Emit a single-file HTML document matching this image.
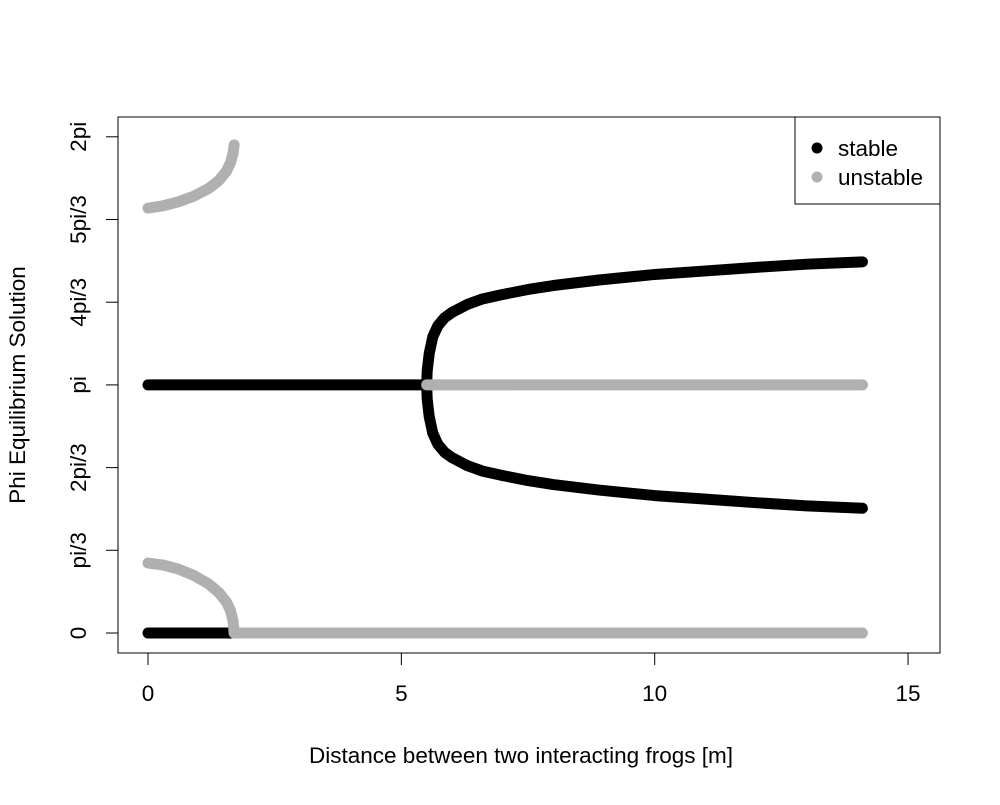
<!DOCTYPE html>
<html><head><meta charset="utf-8"><style>
body{margin:0;background:#fff;font-family:"Liberation Sans",sans-serif}
</style></head><body>
<svg id="chart" width="1000" height="800" font-family="Liberation Sans, sans-serif">
<rect x="0" y="0" width="1000" height="800" fill="#fff"/>
<g id="marks"></g>
<rect x="118" y="117" width="822" height="536" fill="none" stroke="#000" stroke-width="1"/>
<g id="axes"></g>
<text x="521" y="763" font-size="22.5" text-anchor="middle">Distance between two interacting frogs [m]</text>
<text transform="translate(25,385) rotate(-90)" font-size="22.5" text-anchor="middle">Phi Equilibrium Solution</text>
<g>
<rect x="795" y="117" width="145" height="87" fill="#fff" stroke="#000"/>
<circle cx="817" cy="148" r="5.5" fill="#000"/>
<text x="838" y="156" font-size="22.5">stable</text>
<circle cx="817" cy="177" r="5.5" fill="#b0b0b0"/>
<text x="838" y="185" font-size="22.5">unstable</text>
</g>
</svg>
<script>
const xTicks=[0,5,10,15];
const yTickVals=[0,1,2,3,4,5,6];
const yTickLabels=["0","pi/3","2pi/3","pi","4pi/3","5pi/3","2pi"];
// stable series
const stableZeroD=[0,1.7];
const stableZeroPhi=[0,0];
const stablePiD=[0,5.5];
const stablePiPhi=[3.1416,3.1416];
const branchD=[5.5,5.51,5.55,5.62,5.72,5.85,6.0,6.3,6.6,6.95,7.5,8,8.9,10,10.9,12,13,14.1];
const branchUpper=[3.1416,3.32,3.54,3.75,3.89,3.99,4.06,4.16,4.23,4.28,4.35,4.40,4.47,4.54,4.58,4.63,4.67,4.70];
const branchLower=[3.1416,2.96,2.74,2.53,2.39,2.29,2.22,2.12,2.05,2.00,1.93,1.88,1.81,1.74,1.70,1.65,1.61,1.58];
// unstable series
const unstLowD=[0,0.3,0.6,0.9,1.2,1.4,1.55,1.63,1.68,1.7];
const unstLowPhi=[0.886,0.86,0.81,0.73,0.62,0.51,0.39,0.28,0.15,0];
const unstUpD=[0,0.3,0.6,0.9,1.2,1.4,1.55,1.63,1.68,1.7];
const unstUpPhi=[5.38,5.41,5.46,5.53,5.63,5.73,5.85,5.96,6.08,6.18];
const unstZeroD=[1.7,14.1];
const unstZeroPhi=[0,0];
const unstPiD=[5.5,14.1];
const unstPiPhi=[3.1416,3.1416];

const NS="http://www.w3.org/2000/svg";
const sx=d=>148+d*50.67;
const sy=p=>633-p/(Math.PI/3)*82.7;
const marks=document.getElementById('marks'),axes=document.getElementById('axes');
function line(ds,ps,color,name){
  const pl=document.createElementNS(NS,'polyline');
  pl.setAttribute('points',ds.map((d,i)=>sx(d)+','+sy(ps[i])).join(' '));
  pl.setAttribute('fill','none');pl.setAttribute('stroke',color);
  pl.setAttribute('stroke-width','11');pl.setAttribute('stroke-linecap','round');pl.setAttribute('stroke-linejoin','round');
  
  
  marks.appendChild(pl);
}
const K='#000',G='#b0b0b0';
line(stableZeroD,stableZeroPhi,K,'stable-zero');
line(stablePiD,stablePiPhi,K,'stable-pi');
line(branchD,branchUpper,K,'stable-upper-branch');
line(branchD,branchLower,K,'stable-lower-branch');
line(unstLowD,unstLowPhi,G,'unstable-lower-curve');
line(unstUpD,unstUpPhi,G,'unstable-upper-curve');
line(unstZeroD,unstZeroPhi,G,'unstable-zero');
line(unstPiD,unstPiPhi,G,'unstable-pi');
function el(tag,attrs,txt){const e=document.createElementNS(NS,tag);for(const k in attrs)e.setAttribute(k,attrs[k]);if(txt!==undefined)e.textContent=txt;axes.appendChild(e);return e;}
let xl=el('line',{x1:sx(0),x2:sx(15),y1:653,y2:653,stroke:'#000'});


xTicks.forEach(t=>{
  const l=el('line',{x1:sx(t),x2:sx(t),y1:653,y2:665,stroke:'#000'});
  
  
  const tx=el('text',{x:sx(t),y:701,'font-size':22.5,'text-anchor':'middle'},String(t));
  
  
});
let yl=el('line',{x1:118,x2:118,y1:sy(0),y2:sy(6*Math.PI/3),stroke:'#000'});


yTickVals.forEach((v,i)=>{
  const y=sy(v*Math.PI/3);
  const l=el('line',{x1:106,x2:118,y1:y,y2:y,stroke:'#000'});
  
  
  const tx=el('text',{transform:`translate(86,${y}) rotate(-90)`,'font-size':22.5,'text-anchor':'middle'},yTickLabels[i]);
  
  
});
</script>
</body></html>
